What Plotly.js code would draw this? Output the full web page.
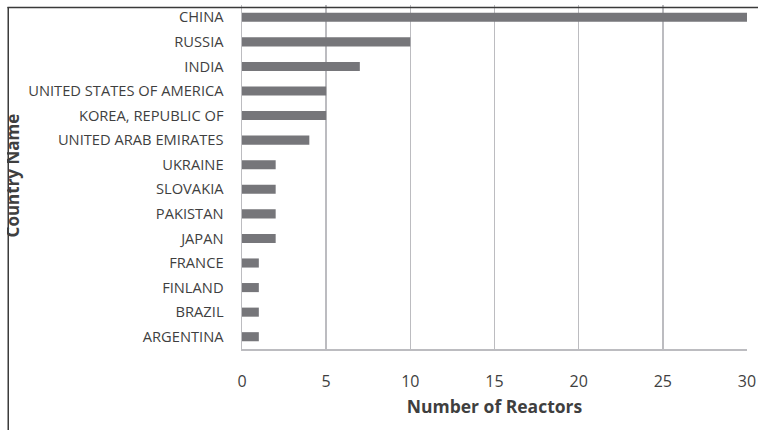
<!DOCTYPE html>
<html>
<head>
<meta charset="utf-8">
<script src="https://cdn.plot.ly/plotly-3.0.1.min.js"></script>
<style>
  html, body { margin: 0; padding: 0; background: #fff; }
  #chart { width: 758px; height: 430px; clip-path: inset(0 0 0 7px); }
</style>
</head>
<body>
<div id="chart"></div>
<script>
// Data (top to bottom)
const countries = [
  "CHINA", "RUSSIA", "INDIA", "UNITED STATES OF AMERICA", "KOREA, REPUBLIC OF",
  "UNITED ARAB EMIRATES", "UKRAINE", "SLOVAKIA", "PAKISTAN", "JAPAN",
  "FRANCE", "FINLAND", "BRAZIL", "ARGENTINA"
];
const reactors = [30, 10, 7, 5, 5, 4, 2, 2, 2, 2, 1, 1, 1, 1];
const xTicks = [0, 5, 10, 15, 20, 25, 30];
const xTitle = "Number of Reactors";
const yTitle = "Country Name";

const W = 758, H = 430;
const mL = 241.7, mR = W - 747, mT = 5, mB = H - 349;
const pw = W - mL - mR, ph = H - mT - mB;
const px = v => (v - mL) / pw;
const py = v => 1 - (v - mT) / ph;

const trace = {
  type: "bar",
  orientation: "h",
  y: countries,
  x: reactors,
  width: 0.37,
  marker: { color: "#76767a" },
  hoverinfo: "x+y"
};

const layout = {
  width: W, height: H,
  margin: { l: mL, r: mR, t: mT, b: mB, pad: 0 },
  paper_bgcolor: "#ffffff",
  plot_bgcolor: "#ffffff",
  showlegend: false,
  font: { family: "Open Sans, sans-serif", color: "#3f3f3f" },
  xaxis: {
    range: [0, 30],
    tickvals: xTicks,
    ticktext: xTicks.map(String),
    showgrid: true,
    gridcolor: "#bcbcc0",
    gridwidth: 1.5,
    zeroline: false,
    showline: true,
    linecolor: "#bcbcc0",
    linewidth: 1.5,
    ticks: "",
    ticklabelstandoff: 17,
    tickfont: { size: 16, color: "#3f3f3f" },
    title: { text: xTitle, font: { size: 17.5, color: "#3f3f3f", weight: "bold" }, standoff: 10 },
    fixedrange: true
  },
  yaxis: {
    categoryorder: "array",
    categoryarray: countries,
    autorange: "reversed",
    showgrid: false,
    zeroline: false,
    showline: true,
    linecolor: "#bcbcc0",
    linewidth: 1.5,
    ticks: "",
    ticklabelstandoff: 14,
    tickfont: { size: 14.7, color: "#3f3f3f" },
    fixedrange: true
  },
  annotations: [
    { text: yTitle, textangle: -90, showarrow: false,
      xref: "paper", yref: "paper", x: px(12), y: py(175),
      xanchor: "center", yanchor: "middle",
      font: { size: 17, color: "#3f3f3f", weight: "bold" } }
  ],
  shapes: [
    { type: "line", xref: "paper", yref: "paper",
      x0: px(7), x1: px(W + 2), y0: py(7.5), y1: py(7.5),
      line: { color: "#3a3a3a", width: 1.5 } },
    { type: "line", xref: "paper", yref: "paper",
      x0: px(7.8), x1: px(7.8), y0: py(7), y1: py(H + 2),
      line: { color: "#3a3a3a", width: 1.5 } }
  ]
};

Plotly.newPlot("chart", [trace], layout, { displayModeBar: false, staticPlot: true });
</script>
</body>
</html>
